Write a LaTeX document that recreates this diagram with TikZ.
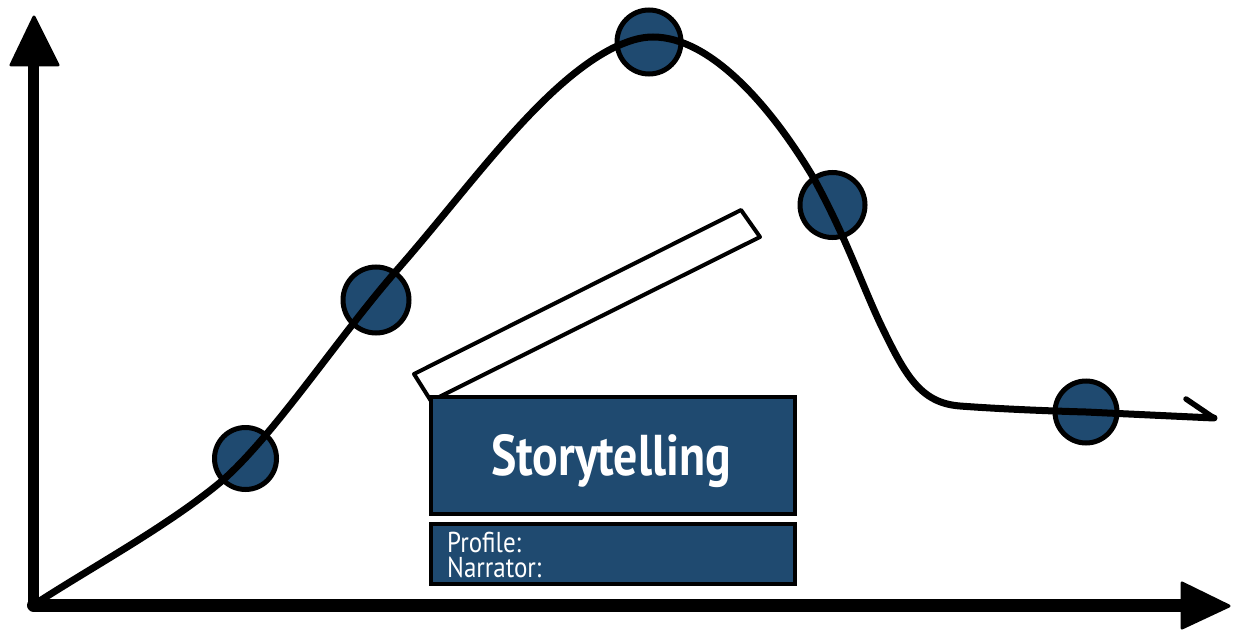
\documentclass[tikz,border=0pt]{standalone}
\usepackage{fontspec}
\setmainfont{PT Sans}
\definecolor{navy}{HTML}{1F4A70}
\tikzset{
  dot/.style={circle,draw=black,fill=navy,line width=5pt,inner sep=0pt,outer sep=0pt,minimum size=#1},
  panel/.style={draw=black,fill=navy,line width=4.5pt,inner sep=0pt,outer sep=0pt,anchor=north west},
  axisline/.style={line width=11pt,draw=black,line cap=round},
  axishead/.style={fill=black,draw=black,line width=3pt,line join=round},
  curveline/.style={line width=7pt,draw=black,line cap=round,line join=round},
}
\begin{document}
\begin{tikzpicture}[x=1pt,y=-1pt]
\useasboundingbox (0,0) rectangle (1233,631);
% axes
\coordinate (o) at (33.5,605);
\coordinate (yb) at (33.5,66);
\coordinate (xb) at (1182,605);
\draw[axisline] (o) -- (yb);
\draw[axisline,line width=13pt] (o) -- (xb);
\coordinate (yl) at (11,65); \coordinate (yr) at (58,65); \coordinate (ya) at (34,17);
\coordinate (xt) at (1182,583); \coordinate (xd) at (1182,628); \coordinate (xa) at (1229,606);
\path[axishead] (yl) -- (ya) -- (yr) -- cycle;
\path[axishead] (xt) -- (xa) -- (xd) -- cycle;
% clapper
\coordinate (k1) at (414,374); \coordinate (k2) at (741,210); \coordinate (k3) at (760,237); \coordinate (k4) at (431,401);
\draw[line width=4pt,fill=white,line join=round] (k1) -- (k2) -- (k3) -- (k4) -- cycle;
\node[panel,minimum width=364pt,minimum height=117pt] (title) at (431,397) {};
\node[panel,minimum width=364pt,minimum height=60pt] (info) at (431,524) {};
\node[text=white,font=\fontsize{46}{46}\selectfont\bfseries,anchor=base,inner sep=0pt] (tt) at (611,475) {\scalebox{1.04}[1.25]{Storytelling}};
\node[text=white,font=\fontsize{25}{24}\selectfont,anchor=west,inner sep=0pt] (pn) at (447,555) {\scalebox{1}[1.15]{\shortstack[l]{Profile:\\Narrator:}}};
% points
\node[dot=62pt] (c1) at (245.5,458.5) {};
\node[dot=66pt] (c2) at (376,300) {};
\node[dot=64pt] (c3) at (649,42) {};
\node[dot=65pt] (c4) at (832.5,205) {};
\node[dot=62pt] (c5) at (1086,412) {};
% curve
\coordinate (end) at (1214,418);
\coordinate (barb) at (1186,399);
\draw[curveline] (o) .. controls (90,568) and (170,525) .. (223,480)
  .. controls (275,434) and (340,335) .. (397,270)
  .. controls (470,187) and (540,85) .. (613,48)
  .. controls (628,41) and (640,37) .. (653,37)
  .. controls (710,37) and (770,105) .. (813,177)
  .. controls (845,235) and (860,280) .. (880,323)
  .. controls (905,375) and (920,403) .. (960,406)
  .. controls (1000,409) and (1050,411) .. (c5.center) -- (end);
\draw[curveline,line width=5.5pt] (barb) -- (end);
\end{tikzpicture}
\end{document}
